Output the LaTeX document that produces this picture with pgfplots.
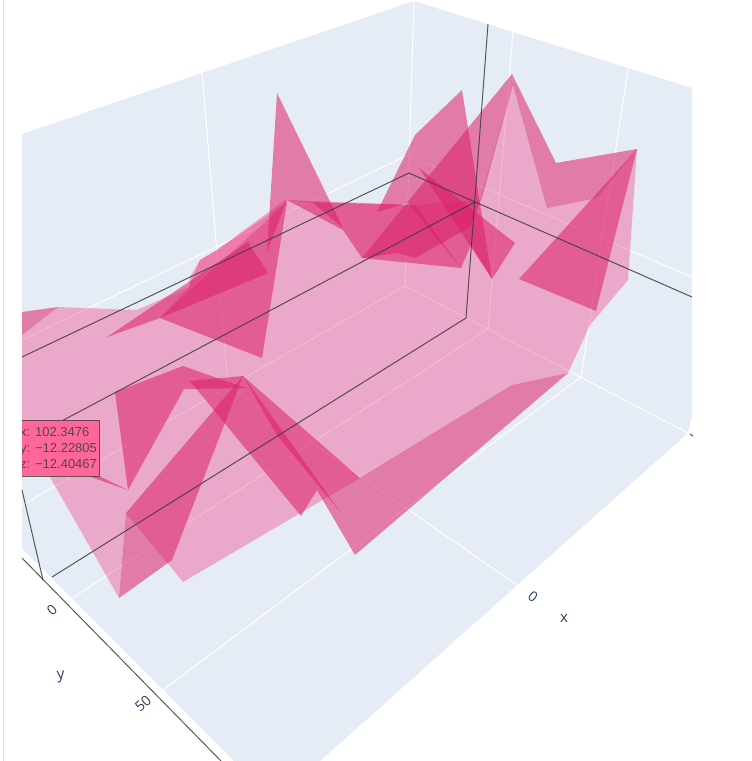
\documentclass[border=0pt]{standalone}
\usepackage{fontspec}
\setmainfont{Liberation Sans}
\newfontfamily\osans{Open Sans}
\usepackage{pgfplots}
\pgfplotsset{compat=1.18}
\definecolor{pane}{RGB}{229,236,246}
\definecolor{base}{RGB}{245,30,112}
\definecolor{dark}{RGB}{220,32,103}
\definecolor{axl}{RGB}{60,60,60}
\definecolor{tiptxt}{RGB}{85,70,82}
\definecolor{tick}{RGB}{42,63,95}
\definecolor{tip}{RGB}{255,102,153}
\pgfplotsset{
 P/.style={draw=none,fill=pane,forget plot},
 G/.style={draw=white,line width=1pt,forget plot},
 B/.style={draw=none,fill=base,fill opacity=0.32,forget plot},
 D/.style={draw=none,fill=dark,fill opacity=0.55,forget plot},
 K/.style={draw=axl,line width=1pt,draw opacity=0.85,forget plot},
}
\begin{document}
\begin{tikzpicture}
\begin{axis}[hide axis,scale only axis,width=752pt,height=761pt,
 xmin=0,xmax=752,ymin=0,ymax=761,y dir=reverse,clip=true]
\path (axis cs:0,0) rectangle (axis cs:752,761);
% frame
\addplot[draw=black!12,line width=1pt,forget plot] coordinates {(3,0) (3,761)};
% panes
\addplot[P] coordinates {(22,134) (414,1) (405,286) (22,505)};
\addplot[P] coordinates {(414,1) (692,88) (692,415) (688,433) (405,286)};
\addplot[P] coordinates {(405,286) (688,433) (320,761) (234,761) (22,548) (22,505)};
% grid
\addplot[G] coordinates {(22,340) (408,155) (692,277)};
\addplot[G] coordinates {(22,505) (405,286) (688,433)};
\addplot[G] coordinates {(414,1) (405,286)};
\addplot[G] coordinates {(513,32) (488,329) (72,598)};
\addplot[G] coordinates {(628,69) (581,377) (163,690)};
\addplot[G] coordinates {(202,72) (228,385) (517,585)};
% base surface
\addplot[B] coordinates {(22,335) (58,307) (137,310) (189,287) (190,277) (200,260) (217,250) (285,200) (415,205) (480,200) (513,85) (547,208) (597,198) (637,149) (628,280) (590,325) (568,373) (512,385) (360,478) (183,582) (126,513) (119,598) (22,428)};
\addplot[B] coordinates {(160,318) (189,287) (200,260) (217,250) (287,202)};
% panels
\addplot[D] coordinates {(22,312) (58,307) (22,335)};
\addplot[D] coordinates {(277,93) (343,228) (313,203) (287,200) (267,252)};
\addplot[D] coordinates {(287,200) (312,202) (415,205) (461,268) (362,258) (343,230)};
\addplot[D] coordinates {(377,212) (415,135) (462,90) (492,279) (471,245) (461,268) (408,203)};
\addplot[D] coordinates {(512,74) (513,85) (482,197) (470,227) (415,258) (397,253) (362,258)};
\addplot[D] coordinates {(512,74) (556,163) (637,149) (597,198) (547,208) (513,85)};
\addplot[D] coordinates {(419,168) (515,243) (492,279)};
\addplot[D] coordinates {(637,149) (596,311) (519,279)};
\addplot[D] coordinates {(107,337) (248,242) (160,318)};
\addplot[D] coordinates {(160,318) (248,242) (268,273)};
\addplot[D] coordinates {(160,318) (262,358) (287,202)};
\addplot[D] coordinates {(115,392) (183,366) (220,379) (246,388) (184,389) (128,490)};
\addplot[D] coordinates {(190,381) (243,376) (360,478) (317,490) (301,516)};
\addplot[D] coordinates {(317,490) (360,478) (512,385) (568,373) (355,555)};
\addplot[D] coordinates {(243,376) (341,513) (277,435)};
\addplot[D] coordinates {(243,376) (172,560) (126,513)};
\addplot[D] coordinates {(119,598) (126,513) (172,560)};
\addplot[D] coordinates {(128,490) (97,475) (75,462) (70,470) (88,476)};
% wireframe
\addplot[K] coordinates {(22,357) (409,173) (692,297)};
\addplot[K] coordinates {(22,442) (475,202)};
\addplot[K] coordinates {(52,577) (466,318) (488,24)};
\addplot[K] coordinates {(22,490) (43,580)};
\addplot[K] coordinates {(22,558) (221,761)};
\addplot[K] coordinates {(690,434) (693,436)};
% tooltip box
\addplot[draw=axl,draw opacity=0.8,line width=1pt,fill=tip,forget plot] coordinates {(22,420) (99,420) (99,476) (22,476)};
\begin{scope}
\clip (axis cs:22,400) rectangle (axis cs:110,490);
\node[anchor=base west,inner sep=0pt,text=tiptxt,font=\fontsize{13}{15}\selectfont] at (axis cs:20,436) {x: 102.3476};
\node[anchor=base west,inner sep=0pt,text=tiptxt,font=\fontsize{13}{15}\selectfont] at (axis cs:20,452) {y: −12.22805};
\node[anchor=base west,inner sep=0pt,text=tiptxt,font=\fontsize{13}{15}\selectfont] at (axis cs:20,468) {z: −12.40467};
\end{scope}
\node[inner sep=0pt,text=tick,font=\osans\fontsize{14}{15}\selectfont,rotate=-35] at (axis cs:533,597) {0};
\node[inner sep=0pt,text=tick,font=\osans\fontsize{15}{15}\selectfont] at (axis cs:564,618) {x};
\node[inner sep=0pt,text=tick,font=\osans\fontsize{14}{15}\selectfont,rotate=40] at (axis cs:52,610) {0};
\node[inner sep=0pt,text=tick,font=\osans\fontsize{14}{15}\selectfont,rotate=40] at (axis cs:143,704) {50};
\node[inner sep=0pt,text=tick,font=\osans\fontsize{15}{15}\selectfont,rotate=5] at (axis cs:61,677) {y};
\end{axis}
\end{tikzpicture}
\end{document}
